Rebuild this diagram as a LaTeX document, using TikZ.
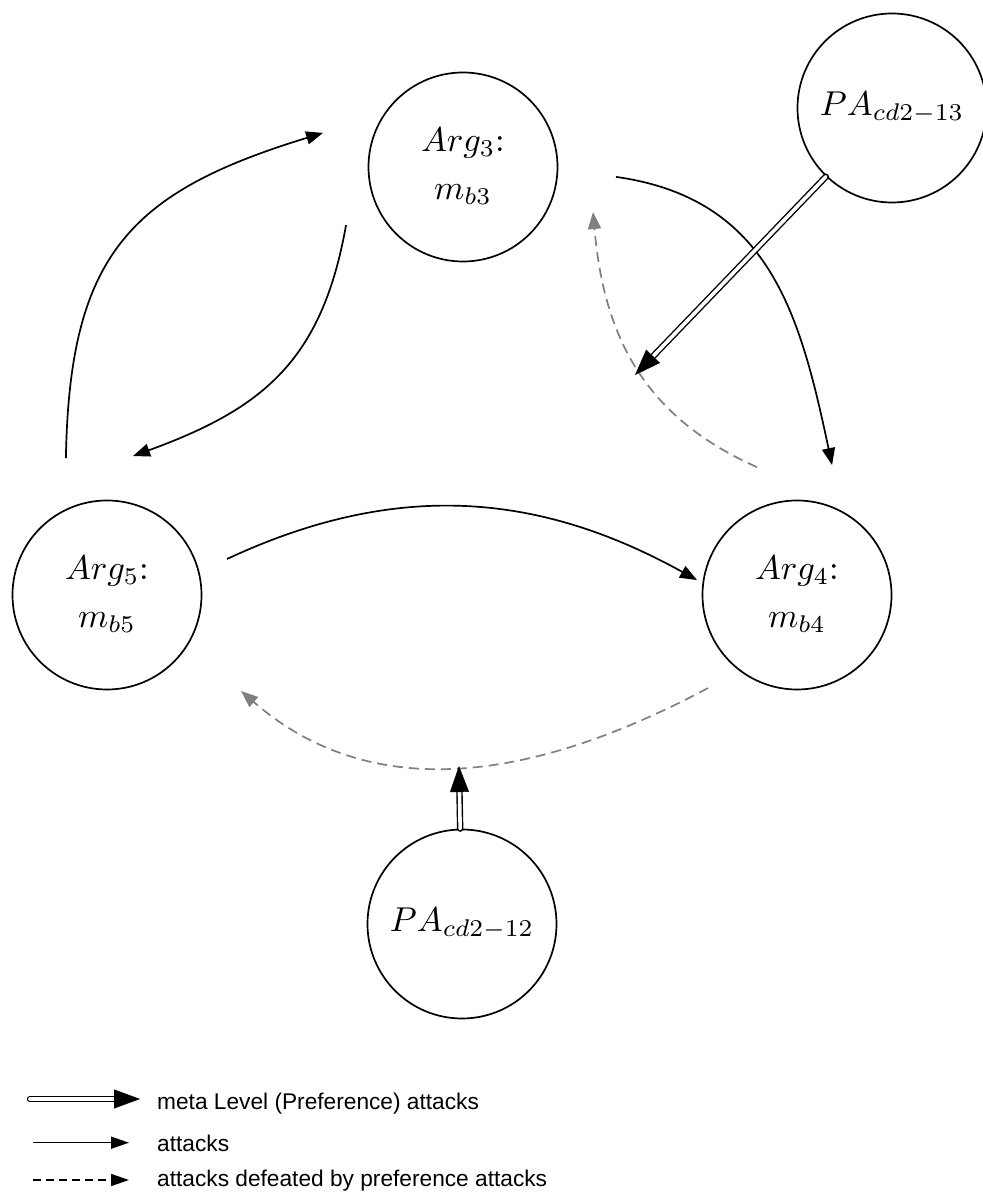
\documentclass[tikz,border=0pt]{standalone}
\usepackage{fontspec}
\newfontfamily\legendfont{Liberation Sans}
\usetikzlibrary{arrows.meta,calc}
% argument labels are set at 10pt and enlarged as a whole
\newcommand{\arglabel}[2]{\scalebox{3.45}{\begin{tabular}{@{}c@{}}$#1$:\\[1.9pt]$#2$\end{tabular}}}
\newcommand{\palabel}[1]{\scalebox{3.45}{$#1$}}

\begin{document}
\begin{tikzpicture}[x=1pt,y=1pt,
  arg/.style={circle,draw,line width=1.7pt,minimum size=189pt,inner sep=0pt},
  attack/.style={line width=1.7pt,-{Triangle[length=17pt,width=13pt]}},
  defeated/.style={line width=1.7pt,black!50,dash pattern=on 10pt off 6pt,
                   -{Triangle[length=17pt,width=13pt]}},
  metashaft/.style={double=white,double distance=3.6pt,line width=1.4pt,line cap=round},
  metatip/.style={-{Triangle[length=26pt,width=19pt]}},
  legendtext/.style={anchor=base west,inner sep=0pt,font=\legendfont\fontsize{22.7}{27}\selectfont}
]
\useasboundingbox (0,0) rectangle (983,1195);

% arguments and preference attacks
\node[arg] (arg3) at (463,1028) {\arglabel{Arg_3}{m_{b3}}};
\node[arg] (arg5) at (107,600) {\arglabel{Arg_5}{m_{b5}}};
\node[arg] (arg4) at (797,600) {\arglabel{Arg_4}{m_{b4}}};
\node[arg] (pa13) at (892,1087) {\palabel{PA_{cd2-13}}};
\node[arg] (pa12) at (462,271) {\palabel{PA_{cd2-12}}};

% attacks between arguments
\draw[attack] ($(arg3)+(206.4:130.6)$) to[out=260,in=20,looseness=1.12] ($(arg5)+(79.4:141.4)$);
\draw[attack] ($(arg5)+(106.7:143)$) to[out=89,in=197,looseness=1.25] ($(arg3)+(166.3:144)$);
\draw[attack] ($(arg3)+(-3.7:153.3)$) to[out=-8,in=102,looseness=1.1] ($(arg4)+(74.9:134.6)$);
\draw[attack] ($(arg5)+(16.7:125.3)$) to[out=25,in=151] ($(arg4)+(171.5:101.1)$);

% attacks defeated by preference
\draw[defeated] ($(arg4)+(107.4:134)$) to[out=156,in=-85,looseness=1.05] ($(arg3)+(-19.1:137.6)$);
\draw[defeated] ($(arg4)+(226.3:128.7)$) to[out=208,in=-41] ($(arg5)+(-35.6:164.8)$);

% meta level (preference) attacks
\coordinate (t13) at ($(pa13)+(226.1:370.6)$);
\draw[metashaft] (pa13) -- ($(t13)!20pt!(pa13)$);
\draw[metatip] ($(t13)!26pt!(pa13)$) -- (t13);

\coordinate (t12) at ($(pa12)+(91.1:158)$);
\draw[metashaft] (pa12) -- ($(t12)!20pt!(pa12)$);
\draw[metatip] ($(t12)!26pt!(pa12)$) -- (t12);

% legend
\coordinate (l1a) at (30,96);  \coordinate (l1b) at (140,96);
\coordinate (l2a) at (33,52.3); \coordinate (l2b) at (129,52.3);
\coordinate (l3a) at (33,15);  \coordinate (l3b) at (129,15);
\draw[metashaft] (l1a) -- ($(l1b)+(-20,0)$);
\draw[metatip] ($(l1b)+(-26,0)$) -- (l1b);
\draw[line width=1.6pt,-{Triangle[length=18pt,width=12pt]}] (l2a) -- (l2b);
\draw[line width=1.6pt,dash pattern=on 8pt off 5pt,-{Triangle[length=18pt,width=12pt]}] (l3a) -- (l3b);
\node[legendtext] (lt1) at (157,85) {meta Level (Preference) attacks};
\node[legendtext] (lt2) at (157,43.3) {attacks};
\node[legendtext] (lt3) at (157,8.3) {attacks defeated by preference attacks};
\end{tikzpicture}
\end{document}
